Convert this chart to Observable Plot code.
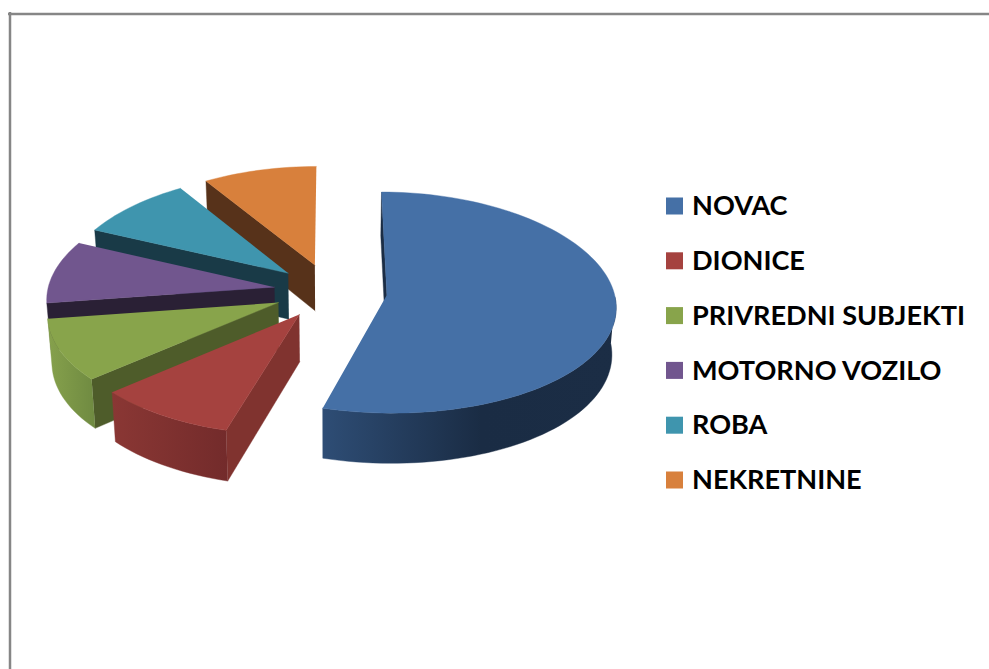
<!DOCTYPE html>
<html>
<head>
<meta charset="utf-8">
<script src="https://cdn.jsdelivr.net/npm/d3@7"></script>
<script src="https://cdn.jsdelivr.net/npm/@observablehq/plot@0.6"></script>
<style>
html,body{margin:0;padding:0;background:#fff;overflow:hidden}
svg{display:block}
</style>
</head>
<body>
<div id="chart"></div>
<script>
const categories = ["NOVAC","DIONICE","PRIVREDNI SUBJEKTI","MOTORNO VOZILO","ROBA","NEKRETNINE"];
const values = [54.5,9.1,9.1,9.1,9.1,9.1];
const topColors = ["#4570A6","#A5423F","#88A44B","#71568E","#3F95AE","#D8803C"];
const radialColors = ["#1B2D45","#80332F","#4E5C2A","#2A2035","#193A47","#57321A"];
const wallStops = [
  [[0,"#2E4D75"],[0.54,"#1A2C44"],[1,"#1B2D45"]],
  [[0,"#8A3734"],[1,"#732B2B"]],
  [[0,"#86A14C"],[1,"#6F8A41"]],
  null, null, null
];

const W = 989, H = 669;
const cx = 330, cy = 290.5, Rx = 227, Ry = 110;
const explode = 0.25, bottomShrink = 0.985;

// projection of the pie's plane onto the chart's unit coordinates
const project = (X, Y) => ({x: X * (1 + 0.095 * Y), y: Y + 0.07 * Y * Y});
const below = p => {
  const depth = (48 + (p.y * Ry + cy - 340) * 0.03) / Ry;
  return {x: p.x * bottomShrink, y: p.y + depth};
};
const ux = px => (px - cx) / Rx;
const uy = py => (py - cy) / Ry;

const arcs = d3.pie().sort(null).value(d => d)(values);
const deg = Math.PI / 180;

function slice(arc, i) {
  const mid = (arc.startAngle + arc.endAngle) / 2;
  const ox = explode * Math.sin(mid), oy = -explode * Math.cos(mid);
  const at = t => project(ox + Math.sin(t), oy - Math.cos(t));
  const n = Math.max(8, Math.ceil((arc.endAngle - arc.startAngle) / (2 * deg)));
  const ts = d3.range(n + 1).map(k => arc.startAngle + (arc.endAngle - arc.startAngle) * k / n);
  const apex = project(ox, oy);
  const rim = ts.map(at);
  const front = ts.filter(t => Math.cos(t) < 0).map(at);
  const shapes = [];
  // radial face at the start of the slice
  const a = at(arc.startAngle);
  shapes.push({pts: [apex, a, below(a), below(apex)], fill: radialColors[i]});
  // outer wall
  if (front.length > 1 && wallStops[i]) {
    shapes.push({pts: [...front, ...front.slice().reverse().map(below)], fill: `url(#wall${i})`});
  }
  // top
  shapes.push({pts: [apex, ...rim], fill: topColors[i]});
  return shapes;
}

// paint from the back to the front, the large slice last
const order = [5,4,3,2,1,0];
const shapes = order.flatMap(i => slice(arcs[i], i));

const defs = () => {
  const d = d3.create("svg:defs");
  wallStops.forEach((stops, i) => {
    if (!stops) return;
    const g = d.append("linearGradient").attr("id", `wall${i}`);
    stops.forEach(([o, c]) => g.append("stop").attr("offset", o).attr("stop-color", c));
  });
  return d.node();
};

const legendTop = 206, legendStep = 54.8, legendSwatch = 17;
const legendRows = categories.map((c, i) => ({
  label: c,
  color: topColors[i],
  x1: ux(666), x2: ux(666 + legendSwatch),
  y1: uy(legendTop + i * legendStep - legendSwatch / 2 ),
  y2: uy(legendTop + i * legendStep + legendSwatch / 2 ),
  tx: ux(691.5),
  ty: uy(legendTop + i * legendStep)
}));

const chart = Plot.plot({
  width: W, height: H,
  margin: 0,
  x: {domain: [ux(0), ux(W)], range: [0, W], axis: null},
  y: {domain: [uy(0), uy(H)], range: [0, H], axis: null},
  marks: [
    defs,
    Plot.ruleX([ux(9.5)], {y1: uy(12), y2: uy(H), stroke: "#868686", strokeWidth: 2.5}),
    Plot.ruleY([uy(13.5)], {x1: ux(8), x2: ux(W), stroke: "#868686", strokeWidth: 2.5}),
    ...shapes.map(s => Plot.line(s.pts, {x: "x", y: "y", fill: s.fill, stroke: s.fill, strokeWidth: 0.4})),
    Plot.rect(legendRows, {x1: "x1", x2: "x2", y1: "y1", y2: "y2", fill: "color"}),
    Plot.text(legendRows, {x: "tx", y: "ty", text: "label", textAnchor: "start", fill: "#000",
      fontFamily: "Lato", fontWeight: 700, fontSize: 27.1})
  ]
});
document.getElementById("chart").append(chart);
</script>
</body>
</html>
